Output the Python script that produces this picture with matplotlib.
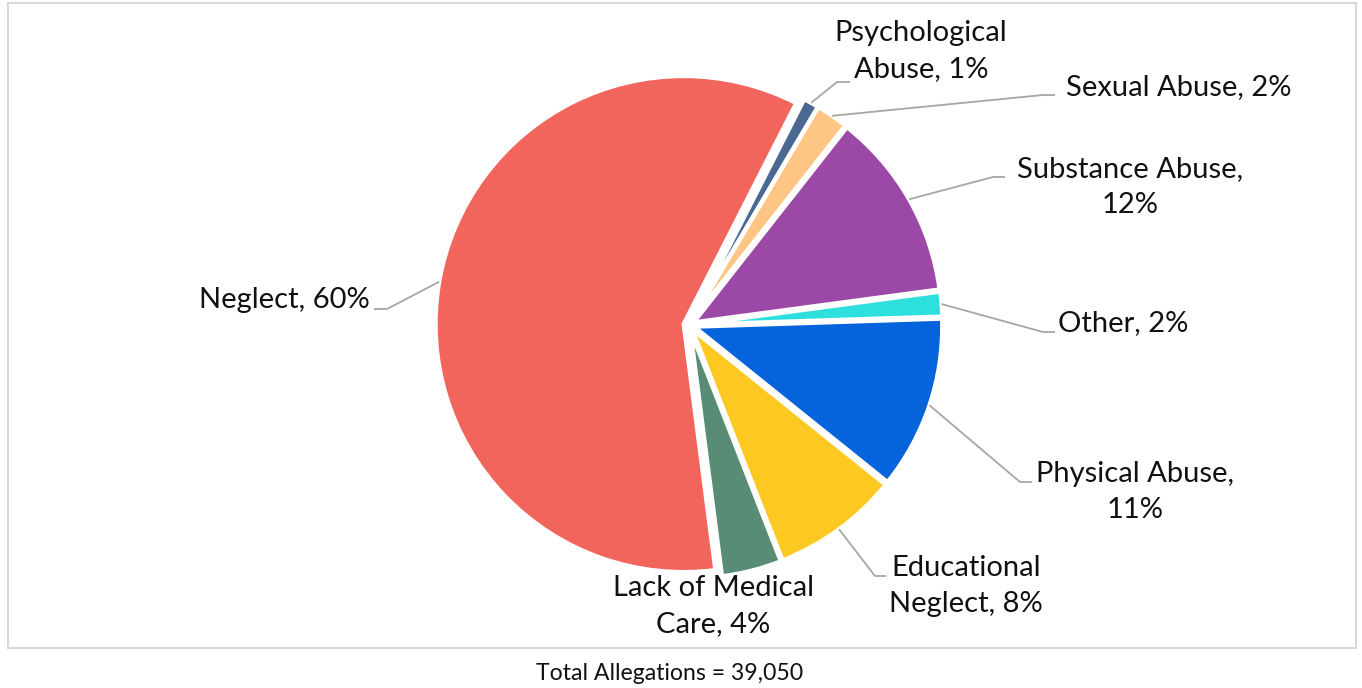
import numpy as np
import matplotlib
matplotlib.use('Agg')
import matplotlib.pyplot as plt
from matplotlib.patches import Rectangle

plt.rcParams['font.family'] = ['Lato', 'DejaVu Sans']

# data (percent of allegations), clockwise from ~27 deg past 12 o'clock
categories = ['Psychological\nAbuse', 'Sexual Abuse', 'Substance Abuse', 'Other',
              'Physical Abuse', 'Educational\nNeglect', 'Lack of Medical\nCare', 'Neglect']
values = [1.0, 2.1, 12.3, 1.6, 11.3, 8.3, 3.9, 59.6]
seps = [', ', ', ', ',\n', ', ', ',\n', ', ', ', ', ', ']
colors = ['#4A6891', '#FFC585', '#9B48A6', '#2DE0DE', '#0563DB', '#FEC822', '#588C74', '#F1655C']
total_text = 'Total Allegations = 39,050'

W, H = 1362, 688
CX, CY, R = 689, 325, 248   # pie centre / radius in pixels


def px(x, y):
    return (x - CX) / R, (CY - y) / R


fig = plt.figure(figsize=(W / 100, H / 100), dpi=100)
ax = fig.add_axes([0, 0, 1, 1])
wedges, _ = ax.pie(values, colors=colors, startangle=63, counterclock=False,
                   explode=[0.022] * len(values),
                   wedgeprops=dict(edgecolor='white', linewidth=3))
ax.set_xlim(-CX / R, (W - CX) / R)
ax.set_ylim(-(H - CY) / R, CY / R)
ax.set_aspect('equal')
ax.axis('off')

# label text centres and leader-line elbows (pixels), None = no leader
label_pos = [(921, 51), (1179, 87), (1130, 187), (1123, 323),
             (1135, 492), (966, 586), (713, 606), (284, 300)]
elbows = [((837, 82), (850, 82)), ((1043, 95), (1055, 95)), ((993, 177), (1005, 177)),
          ((1043, 332), (1055, 332)), ((1020, 482), (1032, 482)), ((875, 576), (886, 576)),
          None, ((387, 309), (374, 309))]

for w, name, v, sep, pos, elb in zip(wedges, categories, values, seps, label_pos, elbows):
    txt = '%s%s%.0f%%' % (name, sep, v)
    tx, ty = px(*pos)
    ax.text(tx, ty, txt, ha='center', va='center', fontsize=21, color='#111111',
            linespacing=1.44)
    if elb is None:
        continue
    mid = np.deg2rad((w.theta1 + w.theta2) / 2)
    cx, cy = w.center
    sx, sy = cx + w.r * np.cos(mid), cy + w.r * np.sin(mid)
    e1 = px(*elb[0])
    e2 = px(*elb[1])
    ax.plot([sx, e1[0], e2[0]], [sy, e1[1], e2[1]], color='#A6A6A6', lw=1.3,
            solid_capstyle='butt')

fig.add_artist(Rectangle((8 / W, 1 - 648 / H), (1356 - 8) / W, (648 - 3) / H,
                         transform=fig.transFigure, fill=False,
                         edgecolor='#D9D9D9', lw=1.5))
fig.text(670 / W, 1 - 673 / H, total_text, ha='center', va='center', fontsize=16.6,
         color='#111111')

fig.savefig('out.png', dpi=100, facecolor='white')
